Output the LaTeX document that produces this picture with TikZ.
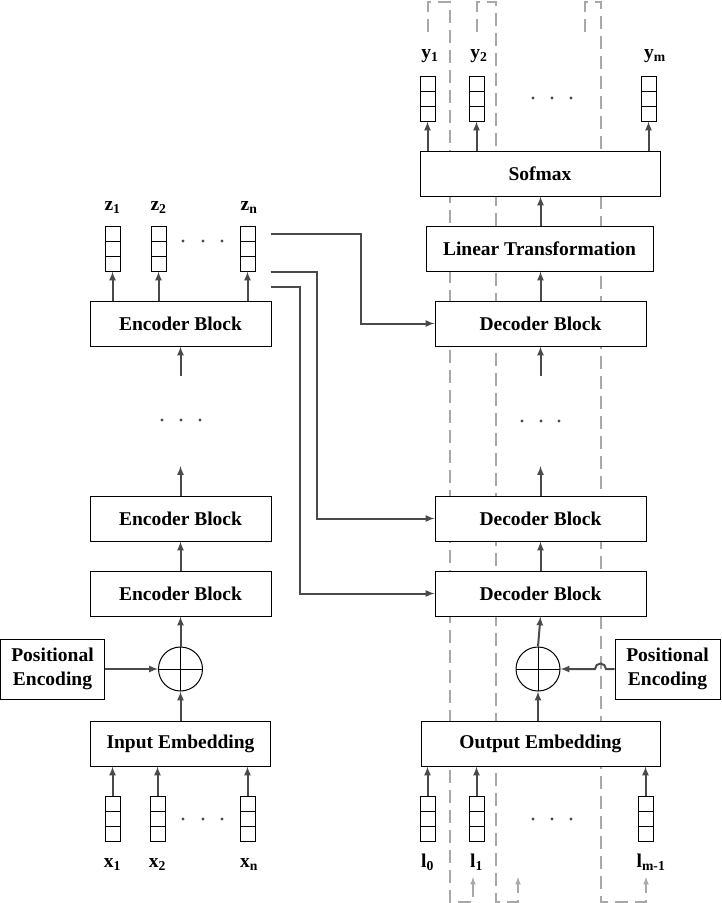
\documentclass[tikz,border=0pt]{standalone}
\usepackage{fontspec}
\setmainfont{Liberation Serif}
\definecolor{flowgray}{HTML}{4A4A4A}
\definecolor{dashgray}{HTML}{A8A8A8}

\begin{document}
\begin{tikzpicture}[x=1pt, y=-1pt,
    font=\fontsize{19.5}{24}\selectfont\bfseries,
    block/.style={draw, fill=white, line width=1pt, minimum height=45pt, inner sep=0pt},
    vec/.style={draw, fill=white, line width=1pt, minimum width=15pt, minimum height=45pt, inner sep=0pt,
        path picture={\draw[line width=1pt]
            ([yshift=15pt]path picture bounding box.south west) -- ([yshift=15pt]path picture bounding box.south east)
            ([yshift=-15pt]path picture bounding box.north west) -- ([yshift=-15pt]path picture bounding box.north east);}},
    add/.style={draw, fill=white, circle, line width=1pt, minimum size=44pt, inner sep=0pt,
        path picture={\draw[line width=1pt]
            (path picture bounding box.north) -- (path picture bounding box.south)
            (path picture bounding box.west) -- (path picture bounding box.east);}},
    vlabel/.style={anchor=base, inner sep=0pt},
    flow/.style={draw=flowgray, line width=2pt, -latex},
    feedback/.style={draw=dashgray, line width=1.5pt, dash pattern=on 13pt off 7pt, -latex}]
    \useasboundingbox (0,0) rectangle (721,903);

    \coordinate (fb1s) at (428,32);
    \coordinate (fb1e) at (473,877);
    \coordinate (fb2s) at (477,32);
    \coordinate (fb2e) at (518,877);
    \coordinate (fb3s) at (585,32);
    \coordinate (fb3e) at (646,877);
    \draw[feedback] (fb1s) |- (450,2) -- (450,902) -| (fb1e);
    \draw[feedback] (fb2s) |- (496,2) -- (496,902) -| (fb2e);
    \draw[feedback] (fb3s) |- (601,2) -- (601,902) -| (fb3e);

    \node[block, minimum width=181pt] (enc1) at (180.5,323.5) {Encoder Block};
    \node[block, minimum width=181pt] (enc2) at (180.5,518.5) {Encoder Block};
    \node[block, minimum width=181pt] (enc3) at (180.5,593.5) {Encoder Block};
    \node[add] (sum1) at (180.5,669) {};
    \node[block, minimum width=180pt] (inemb) at (180.5,743.5) {Input Embedding};
    \node[block, minimum width=104pt, minimum height=60pt, align=center] (pos1) at (52.5,669) {Positional\\Encoding};

    \node[block, minimum width=240pt] (soft) at (540,173.5) {Sofmax};
    \node[block, minimum width=227pt] (lin) at (539.5,248.5) {Linear Transformation};
    \node[block, minimum width=211pt] (dec1) at (540.5,323.5) {Decoder Block};
    \node[block, minimum width=211pt] (dec2) at (540.5,518.5) {Decoder Block};
    \node[block, minimum width=211pt] (dec3) at (540.5,593.5) {Decoder Block};
    \node[add] (sum2) at (538,669) {};
    \node[block, minimum width=239pt] (outemb) at (540.5,743.5) {Output Embedding};
    \node[block, minimum width=105pt, minimum height=60pt, align=center] (pos2) at (667.5,669) {Positional\\Encoding};

    \foreach \name/\px in {x1/112.5, x2/157.5, xn/247.5}
        \node[vec] (\name) at (\px,818.5) {};
    \foreach \name/\px in {z1/112.5, z2/158.5, zn/247.5}
        \node[vec] (\name) at (\px,248.5) {};
    \foreach \name/\px in {y1/427.5, y2/476.5, ym/648.5}
        \node[vec] (\name) at (\px,98.5) {};
    \foreach \name/\px in {l0/427.5, l1/476.5, lm/645.5}
        \node[vec] (\name) at (\px,818.5) {};

    \node[vlabel] (x1lab) at (112.5,867) {x\textsubscript{1}};
    \node[vlabel] (x2lab) at (157.5,867) {x\textsubscript{2}};
    \node[vlabel] (xnlab) at (249,867) {x\textsubscript{n}};
    \node[vlabel] (z1lab) at (112.5,210) {z\textsubscript{1}};
    \node[vlabel] (z2lab) at (158.5,210) {z\textsubscript{2}};
    \node[vlabel] (znlab) at (249,210) {z\textsubscript{n}};
    \node[vlabel] (y1lab) at (430,58) {y\textsubscript{1}};
    \node[vlabel] (y2lab) at (479,58) {y\textsubscript{2}};
    \node[vlabel] (ymlab) at (655,58) {y\textsubscript{m}};
    \node[vlabel] (l0lab) at (427.5,867) {l\textsubscript{0}};
    \node[vlabel] (l1lab) at (476.5,867) {l\textsubscript{1}};
    \node[vlabel] (lmlab) at (651,867) {l\textsubscript{m-1}};

    \foreach \py in {241,819}
        \foreach \px in {183,203,222}
            \fill[flowgray] (\px,\py) circle (1.7);
    \foreach \py in {98,819}
        \foreach \px in {533,552,571}
            \fill[flowgray] (\px,\py) circle (1.7);
    \foreach \px in {162,181,200}
        \fill[flowgray] (\px,420) circle (1.7);
    \foreach \px in {522,541,559}
        \fill[flowgray] (\px,421) circle (1.7);

    \foreach \v in {x1,x2,xn}
        \draw[flow] (\v.north) -- (inemb.south -| \v);
    \foreach \v in {l0,l1,lm}
        \draw[flow] (\v.north) -- (outemb.south -| \v);
    \foreach \v in {z1,z2,zn}
        \draw[flow] (enc1.north -| \v) -- (\v.south);
    \foreach \v in {y1,y2,ym}
        \draw[flow] (soft.north -| \v) -- (\v.south);

    \coordinate (enc1in) at (180.5,376);
    \coordinate (enc2out) at (180.5,466);
    \coordinate (dec1in) at (540.5,376);
    \coordinate (dec2out) at (540.5,466);

    \draw[flow] (inemb.north) -- (sum1.south);
    \draw[flow] (pos1.east) -- (sum1.west);
    \draw[flow] (sum1.north) -- (enc3.south);
    \draw[flow] (enc3.north) -- (enc2.south);
    \draw[flow] (enc2.north) -- (enc2out);
    \draw[flow] (enc1in) -- (enc1.south);

    \draw[flow] (outemb.north -| sum2) -- (sum2.south);
    \draw[flow] (pos2.west) -- ++(-8.5,0) arc (0:-180:5.5) -- (sum2.east);
    \draw[flow] (sum2.north) -- (dec3.south);
    \draw[flow] (dec3.north) -- (dec2.south);
    \draw[flow] (dec2.north) -- (dec2out);
    \draw[flow] (dec1in) -- (dec1.south);
    \draw[flow] (dec1.north) -- (lin.south -| dec1);
    \draw[flow] (lin.north -| dec1) -- (soft.south -| dec1);

    \draw[flow] ([shift={(15,8)}]zn.north east) -| ([xshift=-74pt]dec1.west) -- (dec1.west);
    \draw[flow] ([xshift=15pt]zn.south east) -| ([xshift=-118pt]dec2.west) -- (dec2.west);
    \draw[flow] ([shift={(15,15)}]zn.south east) -| ([xshift=-135pt]dec3.west) -- (dec3.west);
\end{tikzpicture}
\end{document}
